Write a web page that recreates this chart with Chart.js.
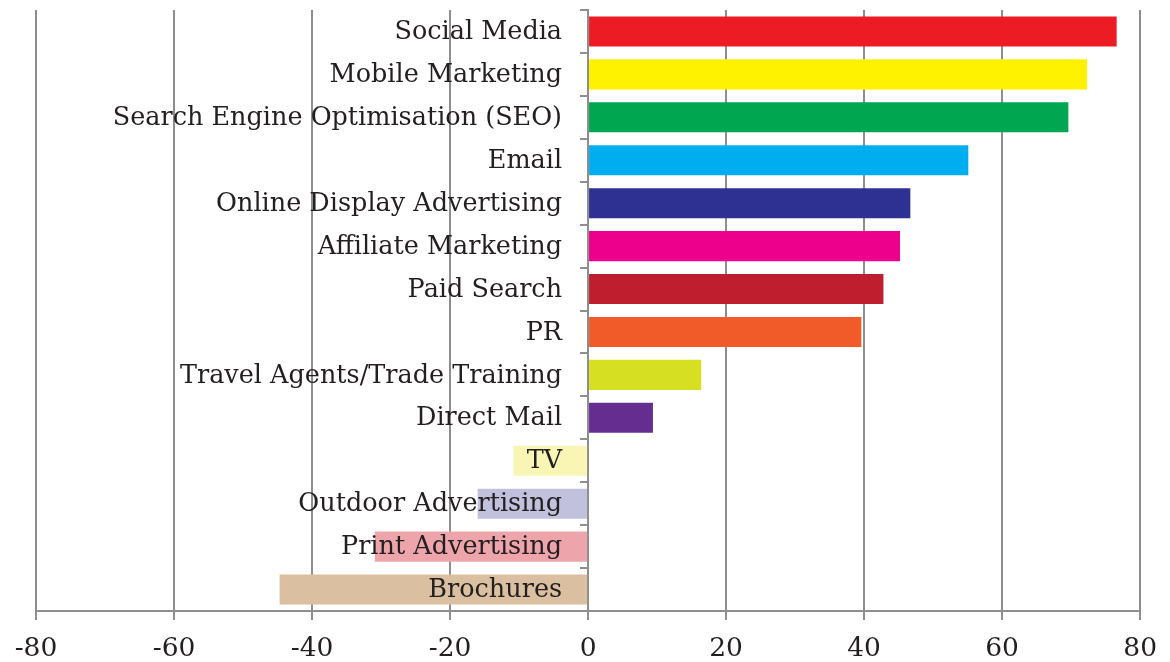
<!DOCTYPE html>
<html>
<head>
<meta charset="utf-8">
<script src="https://cdn.jsdelivr.net/npm/chart.js@4/dist/chart.umd.min.js"></script>
<style>
    html, body { margin: 0; padding: 0; background: #fff; }
    #wrap { width: 1170px; height: 662px; }
</style>
</head>
<body>
<div id="wrap"><canvas id="channels"></canvas></div>
<script>
// Marketing channels, net score per channel
const channels = [
    'Social Media', 'Mobile Marketing', 'Search Engine Optimisation (SEO)', 'Email',
    'Online Display Advertising', 'Affiliate Marketing', 'Paid Search', 'PR',
    'Travel Agents/Trade Training', 'Direct Mail', 'TV', 'Outdoor Advertising',
    'Print Advertising', 'Brochures'
];
const netScores = [76.6, 72.3, 69.6, 55.1, 46.7, 45.2, 42.8, 39.6, 16.4, 9.4, -10.8, -16.0, -30.9, -44.7];
const barColours = [
    '#ed1c24', '#fff200', '#00a650', '#00aeef', '#2e3192', '#ec008c', '#be1e2d',
    '#f15a29', '#d7df23', '#662d91', '#f9f5b5', '#c1c1de', '#eda5ab', '#dac0a0'
];
const xTicks = [-80, -60, -40, -20, 0, 20, 40, 60, 80];

const lineGrey = '#8e8e8e';
const textColour = '#231f20';
const serif = "'DejaVu Serif', Georgia, serif";

// Category names sit just left of the zero line, over the bars
const zeroLabels = {
    id: 'zeroLabels',
    afterDatasetsDraw(chart) {
        const { ctx, scales: { x, y } } = chart;
        const zero = x.getPixelForValue(0);
        ctx.save();
        ctx.font = '25.5px ' + serif;
        ctx.fillStyle = textColour;
        ctx.textAlign = 'right';
        ctx.textBaseline = 'middle';
        channels.forEach((name, i) => {
            ctx.fillText(name, zero - 26, y.getPixelForValue(i) + 1);
        });
        ctx.restore();
    }
};

new Chart(document.getElementById('channels'), {
    type: 'bar',
    data: {
        labels: channels,
        datasets: [{
            data: netScores,
            backgroundColor: barColours,
            barPercentage: 0.7,
            categoryPercentage: 1
        }]
    },
    options: {
        indexAxis: 'y',
        responsive: true,
        maintainAspectRatio: false,
        animation: false,
        layout: { padding: { top: 10, right: 29, left: 36, bottom: 0 } },
        plugins: {
            legend: { display: false },
            tooltip: { enabled: false }
        },
        scales: {
            x: {
                min: -80,
                max: 80,
                afterBuildTicks: (scale) => {
                    scale.ticks = xTicks.map(v => ({ value: v }));
                },
                afterFit: (scale) => {
                    scale.height = 51;
                },
                grid: { color: lineGrey, lineWidth: 2, tickLength: 9 },
                border: { color: lineGrey, width: 2 },
                ticks: {
                    color: textColour,
                    padding: 13,
                    font: { family: serif, size: 26.5 }
                }
            },
            y: {
                position: { x: 0 },
                grid: { drawOnChartArea: false, color: lineGrey, lineWidth: 2, tickLength: 7, offset: true },
                border: { color: lineGrey, width: 2 },
                ticks: { display: false }
            }
        }
    },
    plugins: [zeroLabels]
});
</script>
</body>
</html>
